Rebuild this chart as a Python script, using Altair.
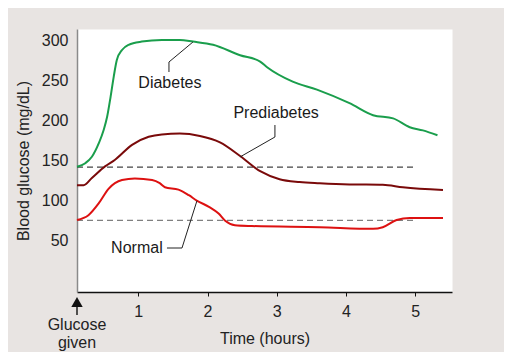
import altair as alt
import pandas as pd

# ---- data ----
diab_x = [0.115, 0.235, 0.33, 0.43, 0.50, 0.55, 0.60, 0.645, 0.69, 0.765, 0.86, 1.05, 1.34, 1.60, 1.79, 2.08, 2.47, 2.76, 2.86, 3.23, 3.58, 4.05, 4.39, 4.68, 4.92, 5.11, 5.32]
diab_y = [141.5, 146, 154, 171, 187.5, 204, 229, 254, 275, 287.5, 294, 298, 300, 300, 298, 294, 281, 273, 266, 248, 238, 221, 206, 202, 191, 187, 181]

pre_x = [0.115, 0.21, 0.33, 0.52, 0.66, 0.91, 1.15, 1.34, 1.60, 1.89, 2.18, 2.47, 2.76, 3.04, 3.33, 3.62, 4.05, 4.53, 4.82, 5.40]
pre_y = [118.5, 118.5, 127.5, 142, 150, 169, 179, 182, 183, 180, 172, 155, 136, 126, 122.5, 121, 119.5, 119, 116, 112.5]

norm_x = [0.115, 0.28, 0.43, 0.57, 0.765, 0.95, 1.20, 1.31, 1.385, 1.58, 1.73, 1.85, 2.02, 2.16, 2.255, 2.395, 2.64, 3.62, 4.39, 4.53, 4.73, 4.92, 5.40]
norm_y = [75, 81, 96, 114, 125, 127, 125, 121, 116, 113, 106, 99, 91.5, 83, 74, 68.5, 67.5, 66, 64, 66, 75, 77.5, 77.5]

series_names = ["Diabetes", "Prediabetes", "Normal"]
series_colors = ["#1a9e4c", "#7a0a0a", "#dd1111"]

ref_levels = [141, 74.5]
ref_x_start = [0.115, 0.115]
ref_x_end = [4.99, 4.99]
ref_colors = ["#444444", "#808080"]

label_text = ["Diabetes", "Prediabetes", "Normal"]
label_x = [1.457, 2.99, 0.98]
label_y = [246, 208.75, 40]

leader_id = ["d", "d", "d", "p", "p", "p", "n", "n", "n"]
leader_x = [1.443, 1.443, 1.789, 2.973, 2.973, 2.468, 1.414, 1.631, 1.847]
leader_y = [260, 272.5, 297.5, 193.75, 178.75, 153.75, 40, 40, 99]
leader_order = [0, 1, 2, 0, 1, 2, 0, 1, 2]

x_ticks = [1, 2, 3, 4, 5]
y_ticks = [50, 100, 150, 200, 250, 300]
x_domain = [0.115, 5.53]
y_domain = [-15, 313.75]
glucose_x = [0.115]

FONT = "Liberation Sans"

rows = []
for name, xs, ys in [("Diabetes", diab_x, diab_y), ("Prediabetes", pre_x, pre_y), ("Normal", norm_x, norm_y)]:
    for a, b in zip(xs, ys):
        rows.append({"series": name, "t": a, "g": b})
df = pd.DataFrame(rows)

xs = alt.Scale(domain=x_domain, nice=False, zero=False)
ys = alt.Scale(domain=y_domain, nice=False, zero=False)

lines = alt.Chart(df).mark_line(strokeWidth=2, interpolate="monotone").encode(
    x=alt.X("t:Q", scale=xs, axis=alt.Axis(
        values=x_ticks, format="d", title="Time (hours)", grid=False, domainColor="#111111",
        domainWidth=1.5, tickColor="#111111", tickSize=4, labelFontSize=16,
        labelFont=FONT, labelColor="#222222", labelPadding=7, titleFont=FONT,
        titleFontSize=16, titleFontWeight="normal", titleColor="#222222", titlePadding=11)),
    y=alt.Y("g:Q", scale=ys, axis=alt.Axis(
        values=y_ticks, title="Blood glucose (mg/dL)", grid=False, ticks=False,
        domainColor="#8a8a8a", domainWidth=1.5, labelFontSize=16, labelFont=FONT,
        labelColor="#222222", labelPadding=9, titleFont=FONT, titleFontSize=16,
        titleFontWeight="normal", titleColor="#222222", titlePadding=10)),
    color=alt.Color("series:N", scale=alt.Scale(domain=series_names, range=series_colors), legend=None),
)

ref_df = pd.DataFrame({"x1": ref_x_start, "x2": ref_x_end, "y": ref_levels, "c": ref_colors})
refs = alt.Chart(ref_df).mark_rule(strokeDash=[6, 4], strokeWidth=1.3).encode(
    x=alt.X("x1:Q", scale=xs), x2="x2:Q", y=alt.Y("y:Q", scale=ys),
    color=alt.Color("c:N", scale=None),
)

lead_df = pd.DataFrame({"id": leader_id, "x": leader_x, "y": leader_y, "o": leader_order})
leaders = alt.Chart(lead_df).mark_line(color="#222222", strokeWidth=1).encode(
    x=alt.X("x:Q", scale=xs), y=alt.Y("y:Q", scale=ys), detail="id:N", order="o:Q",
)

lab_df = pd.DataFrame({"text": label_text, "x": label_x, "y": label_y})
labels = alt.Chart(lab_df).mark_text(font=FONT, fontSize=16, color="#1a1a1a", baseline="middle").encode(
    x=alt.X("x:Q", scale=xs), y=alt.Y("y:Q", scale=ys), text="text:N",
)

g_df = pd.DataFrame({"x": glucose_x})
arrow_head = alt.Chart(g_df).mark_point(shape="triangle-up", filled=True, size=130, color="#111111", opacity=1, clip=False).encode(
    x=alt.X("x:Q", scale=xs), y=alt.value(273),
)
arrow_stem = alt.Chart(g_df).mark_rule(color="#111111", strokeWidth=1.4, clip=False).encode(
    x=alt.X("x:Q", scale=xs), y=alt.value(275), y2=alt.value(286),
)
g_text1 = alt.Chart(g_df).mark_text(text="Glucose", font=FONT, fontSize=16, color="#222222", clip=False).encode(
    x=alt.X("x:Q", scale=xs), y=alt.value(296),
)
g_text2 = alt.Chart(g_df).mark_text(text="given", font=FONT, fontSize=16, color="#222222", clip=False).encode(
    x=alt.X("x:Q", scale=xs), y=alt.value(314),
)

chart = alt.layer(refs, lines, leaders, labels, arrow_head, arrow_stem, g_text1, g_text2).properties(
    width=375, height=263,
    autosize=alt.AutoSizeParams(type="none"),
    padding={"left": 69, "top": 21, "right": 52, "bottom": 60},
    background="#e8e4e2",
).configure_view(fill="white", stroke="transparent")

chart.save("out.html", embed_options={"renderer": "svg", "actions": False})
